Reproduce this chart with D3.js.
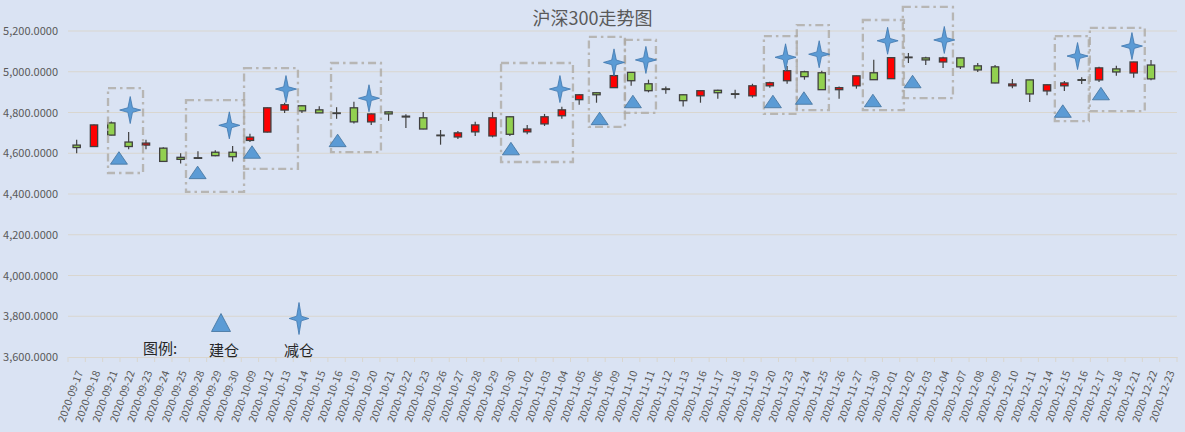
<!DOCTYPE html>
<html><head><meta charset="utf-8">
<script src="https://cdn.jsdelivr.net/npm/d3@7/dist/d3.min.js"></script>
<style>
html,body{margin:0;padding:0;background:#dae3f3;}
svg{display:block;}
</style></head>
<body>
<svg id="chart" width="1185" height="432"></svg>
<script>
const dates = ["2020-09-17","2020-09-18","2020-09-21","2020-09-22","2020-09-23","2020-09-24","2020-09-25","2020-09-28","2020-09-29","2020-09-30",
"2020-10-09","2020-10-12","2020-10-13","2020-10-14","2020-10-15","2020-10-16","2020-10-19","2020-10-20","2020-10-21","2020-10-22","2020-10-23","2020-10-26","2020-10-27","2020-10-28","2020-10-29","2020-10-30",
"2020-11-02","2020-11-03","2020-11-04","2020-11-05","2020-11-06","2020-11-09","2020-11-10","2020-11-11","2020-11-12","2020-11-13","2020-11-16","2020-11-17","2020-11-18","2020-11-19","2020-11-20","2020-11-23","2020-11-24","2020-11-25","2020-11-26","2020-11-27","2020-11-30",
"2020-12-01","2020-12-02","2020-12-03","2020-12-04","2020-12-07","2020-12-08","2020-12-09","2020-12-10","2020-12-11","2020-12-14","2020-12-15","2020-12-16","2020-12-17","2020-12-18","2020-12-21","2020-12-22","2020-12-23"];
const openV  = [4640,4633,4749,4655,4640,4625,4580,4578,4605,4605, 4663,4704,4812,4833,4813,4798,4823,4754,4803,4782,4774,4689,4680,4705,4685,4779, 4705,4744,4784,4863,4897,4922,4997,4941,4916,4887,4882,4909,4892,4882,4931,4956,5000,4995,4912,4931,4995, 4966,5072,5068,5048,5068,5029,5024,4931,4960,4906,4931,4961,4960,5014,4994,5033,null];
const highV  = [4666,4741,4756,4704,4666,4630,4600,4610,4615,4635, 4696,4825,4848,4835,4831,4826,4853,4795,4805,4792,4803,4714,4709,4754,4803,4781, 4739,4793,4828,4889,4899,5001,4998,4961,4927,4889,4908,4912,4912,4941,4951,5028,5005,5005,4927,4981,5059, 5073,5092,5074,5074,5069,5043,5033,4965,4961,4937,4955,4973,5024,5029,5049,5058,null];
const lowV   = [4600,4631,4688,4620,4620,4558,4550,4572,4585,4560, 4655,4702,4798,4798,4797,4769,4746,4739,4759,4724,4718,4642,4670,4685,4678,4685, 4693,4734,4769,4838,4848,4921,4931,4899,4892,4829,4848,4868,4869,4873,4922,4941,4961,4911,4868,4917,4960, 4965,5043,5033,5019,5014,4999,4944,4919,4851,4885,4906,4940,4950,4980,4970,4958,null];
const closeV = [4628,4739,4689,4633,4650,4560,4570,4576,4588,4583, 4679,4823,4838,4808,4798,4796,4754,4793,4793,4778,4719,4687,4700,4739,4774,4693, 4719,4779,4813,4887,4887,4981,4956,4907,4914,4858,4907,4897,4890,4931,4946,5005,4976,4912,4922,4980,4961, 5069,5070,5058,5068,5024,5009,4945,4940,4891,4936,4945,4959,5019,4999,5048,4965,null];

const yTicks = [3600,3800,4000,4200,4400,4600,4800,5000,5200];

// markers: position in category units (fractional) and value
const buildPos = [2.94,7.48,10.62,15.56,25.56,30.68,32.6,40.68,42.47,46.45,48.74,57.41,59.61];
const buildVal = [4577,4506,4606,4663,4623,4771,4854,4854,4871,4859,4952,4807,4893];
const cutPos = [3.59,9.31,12.58,17.37,28.39,31.51,33.35,41.41,43.35,47.3,50.57,58.26,61.4];
const cutVal = [4812,4737,4915,4870,4915,5046,5058,5071,5086,5152,5156,5077,5126];

// highlight boxes: [start pos, end pos, top value, bottom value]
const boxStart = [2.31,6.81,10.16,15.18,24.99,30.06,32.14,40.16,42.06,45.87,48.18,56.95,58.97];
const boxEnd   = [4.33,10.16,13.27,18.06,29.14,32.14,33.93,42.06,43.91,48.24,51.07,58.91,62.14];
const boxTop   = [4920,4861,5018,5043,5043,5171,5156,5175,5229,5254,5318,5175,5215];
const boxBot   = [4503,4410,4523,4606,4557,4729,4798,4793,4812,4812,4871,4758,4807];

const title = "沪深300走势图";
const legendLabel = "图例:";
const buildLabel = "建仓";
const cutLabel = "减仓";

const W = 1185, H = 432;
const M = {left:68, right:8, top:31, bottom:75};
const svg = d3.select("#chart");
svg.append("rect").attr("width",W).attr("height",H).attr("fill","#dae3f3");

const x = d3.scaleBand().domain(dates).range([M.left, W - M.right]).padding(0);
const xPos = d3.scaleLinear().domain([0, dates.length]).range([M.left, W - M.right]);
const y = d3.scaleLinear().domain([3600,5200]).range([H - M.bottom, M.top]);
const bw = x.bandwidth();
const FONT = "'Noto Sans CJK SC','Noto Sans',sans-serif";

// gridlines
svg.append("g").selectAll("line").data(yTicks.filter(d=>d>3600)).join("line")
  .attr("x1",M.left).attr("x2",W-M.right)
  .attr("y1",d=>y(d)).attr("y2",d=>y(d))
  .attr("stroke","#d9d6cf").attr("stroke-width",1);

// y axis labels
const yAxis = d3.axisLeft(y).tickValues(yTicks).tickFormat(d3.format(",.4f")).tickSize(0).tickPadding(10);
const gy = svg.append("g").attr("transform",`translate(${M.left},0)`).call(yAxis);
gy.select(".domain").remove();
gy.selectAll("text").attr("font-family",FONT).attr("font-size","11px").attr("fill","#595959");

// x axis
const xAxis = d3.axisBottom(x).tickSize(0).tickFormat(d=>d);
const gx = svg.append("g").attr("transform",`translate(0,${H-M.bottom})`).call(xAxis);
gx.select(".domain").attr("stroke","#d9d6cf");
gx.selectAll("text")
  .attr("font-family",FONT).attr("font-size","10.5px").attr("fill","#595959")
  .attr("text-anchor","end").attr("dy","0.35em").attr("y",0)
  .attr("transform","translate(3,14) rotate(-70)");
// boundary tick marks
gx.append("g").selectAll("line").data(d3.range(dates.length+1)).join("line")
  .attr("x1",i=>xPos(i)).attr("x2",i=>xPos(i)).attr("y1",0).attr("y2",5)
  .attr("stroke","#d9d6cf");

// title
svg.append("text").attr("x",W/2).attr("y",25)
  .attr("text-anchor","middle").attr("font-family",FONT).attr("font-size","18px")
  .attr("fill","#595959").text(title);

// candles
const candles = dates.map((d,i)=>({d, o:openV[i], h:highV[i], l:lowV[i], c:closeV[i]})).filter(c=>c.o!=null);
const cg = svg.append("g");
cg.selectAll("line.wick").data(candles).join("line").attr("class","wick")
  .attr("x1",c=>x(c.d)+bw/2).attr("x2",c=>x(c.d)+bw/2)
  .attr("y1",c=>y(c.h)).attr("y2",c=>y(c.l))
  .attr("stroke","#404040").attr("stroke-width",1.2);
const bodyW = 7.3;
cg.selectAll("rect.body").data(candles).join("rect").attr("class","body")
  .attr("x",c=>x(c.d)+bw/2-bodyW/2).attr("width",bodyW)
  .attr("y",c=>y(Math.max(c.o,c.c)))
  .attr("height",c=>Math.max(0.6, Math.abs(y(c.o)-y(c.c))))
  .attr("fill",c=>c.c>c.o ? "#ff0000" : "#92d050")
  .attr("stroke","#404040").attr("stroke-width",1.3);

// boxes
const boxes = boxStart.map((s,i)=>({s, e:boxEnd[i], t:boxTop[i], b:boxBot[i]}));
svg.append("g").selectAll("rect").data(boxes).join("rect")
  .attr("x",b=>xPos(b.s)).attr("width",b=>xPos(b.e)-xPos(b.s))
  .attr("y",b=>y(b.t)).attr("height",b=>y(b.b)-y(b.t))
  .attr("fill","none").attr("stroke","#aeaaa4").attr("stroke-opacity",0.8)
  .attr("stroke-width",2.3).attr("stroke-dasharray","8,4,2.5,4");

// marker shapes
function triPath(cx, cy, w, h){
  return `M${cx},${cy-h/2} L${cx+w/2},${cy+h/2} L${cx-w/2},${cy+h/2} Z`;
}
function starPath(cx, cy, rv, rh, k){
  return `M${cx},${cy-rv} L${cx+k},${cy-k} L${cx+rh},${cy} L${cx+k},${cy+k} L${cx},${cy+rv} L${cx-k},${cy+k} L${cx-rh},${cy} L${cx-k},${cy-k} Z`;
}
const mg = svg.append("g");
mg.selectAll("path.tri").data(buildPos.map((p,i)=>({p, v:buildVal[i]}))).join("path").attr("class","tri")
  .attr("d",m=>triPath(xPos(m.p), y(m.v), 17, 12.5))
  .attr("fill","#5b9bd5").attr("stroke","#41719c").attr("stroke-width",0.8);
mg.selectAll("path.star").data(cutPos.map((p,i)=>({p, v:cutVal[i]}))).join("path").attr("class","star")
  .attr("d",m=>starPath(xPos(m.p), y(m.v), 13.5, 10.5, 2.3))
  .attr("fill","#5b9bd5").attr("stroke","#3f76ad").attr("stroke-width",0.8);

// legend
const lg = svg.append("g").attr("font-family",FONT).attr("font-size","15px").attr("fill","#262626");
lg.append("text").attr("x",143).attr("y",354).text(legendLabel);
lg.append("text").attr("x",209).attr("y",356).text(buildLabel);
lg.append("text").attr("x",284).attr("y",356).text(cutLabel);
lg.append("path").attr("d",triPath(221, 322.5, 19, 18))
  .attr("fill","#5b9bd5").attr("stroke","#41719c").attr("stroke-width",0.8);
lg.append("path").attr("d",starPath(299, 318.5, 16, 9.8, 2.3))
  .attr("fill","#5b9bd5").attr("stroke","#3f76ad").attr("stroke-width",0.8);
</script>
</body></html>
